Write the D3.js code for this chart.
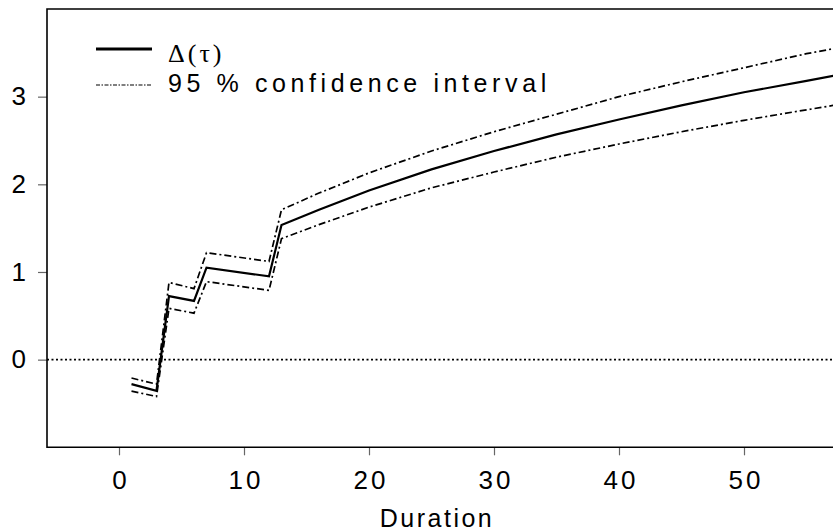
<!DOCTYPE html>
<html>
<head>
<meta charset="utf-8">
<script src="https://cdn.jsdelivr.net/npm/d3@7"></script>
<style>
  body { margin: 0; background: #fff; }
  svg { display: block; }
</style>
</head>
<body>
<svg id="canvas"></svg>
<script>
// durations and the three series
let durations = [1, 3, 4, 6, 7, 12, 13, 16, 20, 25, 30, 35, 40, 45, 50, 55, 58];
let delta     = [-0.28, -0.355, 0.725, 0.67, 1.05, 0.95, 1.535, 1.71, 1.93, 2.17, 2.38, 2.57, 2.74, 2.90, 3.05, 3.18, 3.26];
let upperCI   = [-0.21, -0.28, 0.88, 0.81, 1.22, 1.12, 1.71, 1.90, 2.13, 2.38, 2.60, 2.80, 3.00, 3.17, 3.33, 3.49, 3.57];
let lowerCI   = [-0.36, -0.42, 0.585, 0.53, 0.89, 0.79, 1.38, 1.54, 1.74, 1.96, 2.14, 2.31, 2.46, 2.60, 2.73, 2.85, 2.92];

let xTicks = [0, 10, 20, 30, 40, 50];
let yTicks = [0, 1, 2, 3];
let legendLabels = ['\u0394(\u03c4)', '95 % confidence interval'];

let width = 833;
let height = 531;
let plotLeft = 47, plotRight = 833, plotTop = 9, plotBottom = 447.3;

let svg = d3.select('#canvas').attr('width', width).attr('height', height);

let xScale = d3.scaleLinear().domain([-5.76, 57.12]).range([plotLeft, plotRight]);
let yScale = d3.scaleLinear().domain([-1, 4]).range([plotBottom, plotTop]);

// clip for the plotting area
svg.append('clipPath').attr('id', 'plot')
    .append('rect')
    .attr('x', plotLeft).attr('y', plotTop)
    .attr('width', plotRight - plotLeft).attr('height', plotBottom - plotTop);

/*axes: only ticks and labels, the frame is drawn separately*/
let xAxis = svg.append('g')
    .attr('transform', 'translate(0,' + plotBottom + ')')
    .call(d3.axisBottom(xScale).tickValues(xTicks).tickFormat(d3.format('d'))
        .tickSize(8).tickPadding(15));

let yAxis = svg.append('g')
    .attr('transform', 'translate(' + plotLeft + ',0)')
    .call(d3.axisLeft(yScale).tickValues(yTicks).tickFormat(d3.format('d'))
        .tickSize(9).tickPadding(12));

[xAxis, yAxis].forEach(ax => {
    ax.select('.domain').remove();
    ax.selectAll('.tick line').attr('stroke', '#666').attr('stroke-width', 1.2);
    ax.selectAll('.tick text')
        .attr('fill', '#000')
        .style('font-family', '"Liberation Sans", Arial, sans-serif')
        .style('font-size', '26px');
});
xAxis.selectAll('.tick text').style('letter-spacing', '3px').attr('dx', '1.5px');

// frame (top, left, bottom)
svg.append('path')
    .attr('d', 'M' + (plotRight + 5) + ',' + plotTop + 'H' + plotLeft + 'V' + plotBottom + 'H' + (plotRight + 5))
    .attr('fill', 'none').attr('stroke', '#000').attr('stroke-width', 1.6);

// zero reference line
svg.append('line')
    .attr('x1', plotLeft).attr('x2', plotRight)
    .attr('y1', yScale(0)).attr('y2', yScale(0))
    .attr('stroke', '#000').attr('stroke-width', 1.6)
    .attr('stroke-dasharray', '2,2.5');

let lineOf = series => d3.line()
    .x((d, i) => xScale(durations[i]))
    .y((d, i) => yScale(series[i]))(series);

let g = svg.append('g').attr('clip-path', 'url(#plot)');

[upperCI, lowerCI].forEach(s => {
    g.append('path')
        .attr('d', lineOf(s))
        .attr('fill', 'none').attr('stroke', '#000').attr('stroke-width', 1.7)
        .attr('stroke-dasharray', '7,3,2,3');
});

g.append('path')
    .attr('d', lineOf(delta))
    .attr('fill', 'none').attr('stroke', '#000').attr('stroke-width', 2.2);

// legend
let legend = svg.append('g');
legend.append('line')
    .attr('x1', 96).attr('x2', 152).attr('y1', 49).attr('y2', 49)
    .attr('stroke', '#000').attr('stroke-width', 3.2);
legend.append('line')
    .attr('x1', 96).attr('x2', 152).attr('y1', 85).attr('y2', 85)
    .attr('stroke', '#000').attr('stroke-width', 1.2)
    .attr('stroke-dasharray', '4,1.5,1.5,1.5');

legend.append('text')
    .attr('x', 168).attr('y', 62)
    .style('font-family', '"Liberation Serif", "Times New Roman", serif')
    .style('font-size', '26px')
    .style('letter-spacing', '3px')
    .text(legendLabels[0]);
legend.append('text')
    .attr('x', 168).attr('y', 92)
    .style('font-family', '"Liberation Sans", Arial, sans-serif')
    .style('font-size', '25px')
    .style('letter-spacing', '4.6px')
    .text(legendLabels[1]);

// x axis title
svg.append('text')
    .attr('x', 437).attr('y', 527)
    .attr('text-anchor', 'middle')
    .style('font-family', '"Liberation Sans", Arial, sans-serif')
    .style('font-size', '25px')
    .style('letter-spacing', '2.5px')
    .text('Duration');
</script>
</body>
</html>
